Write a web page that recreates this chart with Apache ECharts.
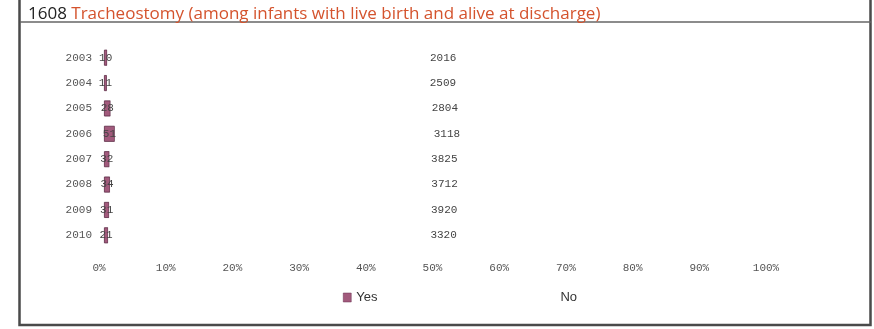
<!DOCTYPE html>
<html>
<head>
<meta charset="utf-8">
<script src="https://cdn.jsdelivr.net/npm/echarts@6/dist/echarts.min.js"></script>
<style>
html,body{margin:0;padding:0;background:#fff;}
#c{width:874px;height:329px;}
</style>
</head>
<body>
<div id="c"></div>
<script>
const years = ['2003','2004','2005','2006','2007','2008','2009','2010'];
const yesCounts = [10, 11, 28, 51, 32, 34, 31, 21];
const noCounts = [2016, 2509, 2804, 3118, 3825, 3712, 3920, 3320];
const xTicks = ['0%','10%','20%','30%','40%','50%','60%','70%','80%','90%','100%'];

const totals = yesCounts.map((v, i) => v + noCounts[i]);
const yesPct = yesCounts.map((v, i) => ({ value: v / totals[i] * 100, raw: v }));
const noPct = noCounts.map((v, i) => ({ value: v / totals[i] * 100, raw: v }));

const mono = '"Liberation Mono", "DejaVu Sans Mono", monospace';
const chart = echarts.init(document.getElementById('c'), null, { renderer: 'canvas' });
chart.setOption({
  animation: false,
  backgroundColor: '#ffffff',
  title: {
    text: '{k|1608 }{t|Tracheostomy (among infants with live birth and alive at discharge)}',
    left: 23, top: 1,
    textStyle: {
      fontWeight: 'normal',
      rich: {
        k: { fontFamily: '"Open Sans", "Noto Sans", sans-serif', fontSize: 17, fontWeight: 'normal', color: '#222' },
        t: { fontFamily: '"Open Sans", "Noto Sans", sans-serif', fontSize: 17, fontWeight: 'normal', color: '#d4532d' }
      }
    }
  },
  graphic: [
    { type: 'rect', shape: { x: 19.5, y: -5, width: 851, height: 330 }, style: { fill: 'none', stroke: '#4a4a4a', lineWidth: 2.5 }, silent: true },
    { type: 'line', shape: { x1: 20, y1: 22, x2: 871, y2: 22 }, style: { stroke: '#666', lineWidth: 1.5 }, silent: true }
  ],
  legend: {
    left: 338, top: 286, itemWidth: 8, itemHeight: 9, itemGap: 170, icon: 'rect',
    textStyle: { fontFamily: '"Liberation Sans Narrow", "Liberation Sans", sans-serif', fontSize: 13, color: '#333' },
    data: [
      { name: 'Yes', itemStyle: { color: '#a25a7c', borderColor: '#6a3050', borderWidth: 0.5 } },
      { name: 'No', itemStyle: { color: '#ffffff', borderWidth: 0 } }
    ]
  },
  grid: [
    { left: 104, right: 95, top: 45, bottom: 81, containLabel: false },
    { left: 99, right: 108, top: 45, bottom: 81, containLabel: false }
  ],
  xAxis: [
    {
      type: 'value', gridIndex: 0, min: 0, max: 100, interval: 10,
      axisLine: { show: false }, axisTick: { show: false }, splitLine: { show: false },
      axisLabel: { show: false }
    },
    {
      type: 'value', gridIndex: 1, min: 0, max: 100, interval: 10,
      axisLine: { show: false }, axisTick: { show: false }, splitLine: { show: false },
      axisLabel: {
        margin: 15, color: '#555', fontFamily: mono, fontSize: 11,
        formatter: v => xTicks[Math.round(v / 10)]
      }
    }
  ],
  yAxis: [
    {
      type: 'category', gridIndex: 0, data: years, inverse: true,
      axisLine: { show: false }, axisTick: { show: false },
      axisLabel: { margin: 12, color: '#555', fontFamily: mono, fontSize: 11 }
    },
    {
      type: 'category', gridIndex: 1, data: years, inverse: true, show: false
    }
  ],
  series: [
    {
      name: 'Yes', type: 'bar', stack: 't', barWidth: 16, data: yesPct,
      xAxisIndex: 0, yAxisIndex: 0,
      itemStyle: { color: '#a25a7c', borderColor: '#5a2a44', borderWidth: 0.8 },
      label: { show: true, position: 'inside', formatter: p => p.data.raw, color: '#444', fontFamily: mono, fontSize: 11 }
    },
    {
      name: 'No', type: 'bar', stack: 't', barWidth: 16, data: noPct,
      xAxisIndex: 0, yAxisIndex: 0,
      itemStyle: { color: '#ffffff', borderWidth: 0 },
      label: { show: true, position: 'inside', formatter: p => p.data.raw, color: '#444', fontFamily: mono, fontSize: 11 }
    }
  ]
});
</script>
</body>
</html>
